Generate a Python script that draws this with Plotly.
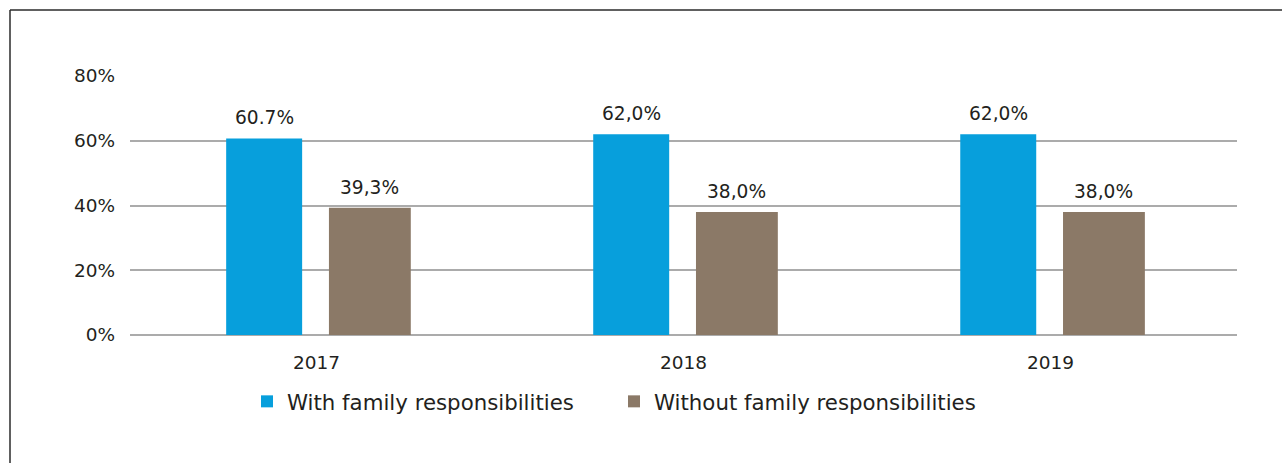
import plotly.graph_objects as go

# Share of respondents by year
years = ["2017", "2018", "2019"]
with_family = [60.7, 62.0, 62.0]
without_family = [39.3, 38.0, 38.0]
with_labels = ["60.7%", "62,0%", "62,0%"]
without_labels = ["39,3%", "38,0%", "38,0%"]

series_names = ["With family responsibilities", "Without family responsibilities"]
y_ticks = [0, 20, 40, 60, 80]
y_tick_text = [f"{v}%" for v in y_ticks]

BLUE = "#079fdc"
BROWN = "#8b7967"
TEXT = "#231f20"
GRID = "#ababab"
FONT = "DejaVu Sans"

W, H = 1282, 463
ML, MR, MT, MB = 130, 45, 76, 128
plot_w = W - ML - MR
plot_h = H - MT - MB

xpos = list(range(len(years)))

# per-series bar geometry in category units
blue_off, blue_w = -0.246, 0.207
brown_off, brown_w = 0.034, 0.223

fig = go.Figure()
fig.add_trace(go.Bar(
    x=xpos, y=with_family, name=series_names[0],
    marker=dict(color=BLUE, line=dict(width=0)),
    offset=blue_off, width=blue_w,
))
fig.add_trace(go.Bar(
    x=xpos, y=without_family, name=series_names[1],
    marker=dict(color=BROWN, line=dict(width=0)),
    offset=brown_off, width=brown_w,
))

annotations = []
for i in xpos:
    for vals, labels, off, wd in (
        (with_family, with_labels, blue_off, blue_w),
        (without_family, without_labels, brown_off, brown_w),
    ):
        annotations.append(dict(
            x=i + off + wd / 2, y=vals[i], xref="x", yref="y",
            text=labels[i], showarrow=False, yanchor="bottom", yshift=8,
            font=dict(family=FONT, size=18.6, color=TEXT),
        ))

# outer frame: top and left edges only
def px_x(px):
    return (px - ML) / plot_w

def px_y(py):
    return (H - MB - py) / plot_h

shapes = [
    dict(type="line", xref="paper", yref="paper",
         x0=px_x(10), x1=px_x(1290), y0=px_y(10), y1=px_y(10),
         line=dict(color="#2b2b2b", width=1.5)),
    dict(type="line", xref="paper", yref="paper",
         x0=px_x(10), x1=px_x(10), y0=px_y(10), y1=px_y(470),
         line=dict(color="#2b2b2b", width=1.5)),
]

fig.update_layout(
    width=W, height=H,
    margin=dict(l=ML, r=MR, t=MT, b=MB, pad=0),
    paper_bgcolor="white", plot_bgcolor="white",
    font=dict(family=FONT, size=18.5, color=TEXT),
    barmode="group",
    showlegend=True,
    legend=dict(
        orientation="h", xref="paper", yref="paper",
        x=px_x(247), y=px_y(381), xanchor="left", yanchor="top",
        font=dict(family=FONT, size=21.3, color=TEXT),
        entrywidth=322, entrywidthmode="pixels",
        itemwidth=30, bgcolor="rgba(0,0,0,0)",
    ),
    annotations=annotations,
    shapes=shapes,
    xaxis=dict(
        range=[-0.508, 2.508], tickvals=xpos, ticktext=years,
        showgrid=False, zeroline=False, showline=False, ticks="",
        tickfont=dict(family=FONT, size=18.5, color=TEXT),
        ticklabelstandoff=14, fixedrange=True,
    ),
    yaxis=dict(
        range=[0, 80], tickvals=y_ticks, ticktext=y_tick_text,
        showgrid=True, gridcolor=GRID, gridwidth=1.5,
        zeroline=True, zerolinecolor=GRID, zerolinewidth=1.5,
        showline=False, ticks="",
        tickfont=dict(family=FONT, size=18.5, color=TEXT),
        ticklabelstandoff=14, fixedrange=True,
    ),
)

fig.write_html("out.html")
